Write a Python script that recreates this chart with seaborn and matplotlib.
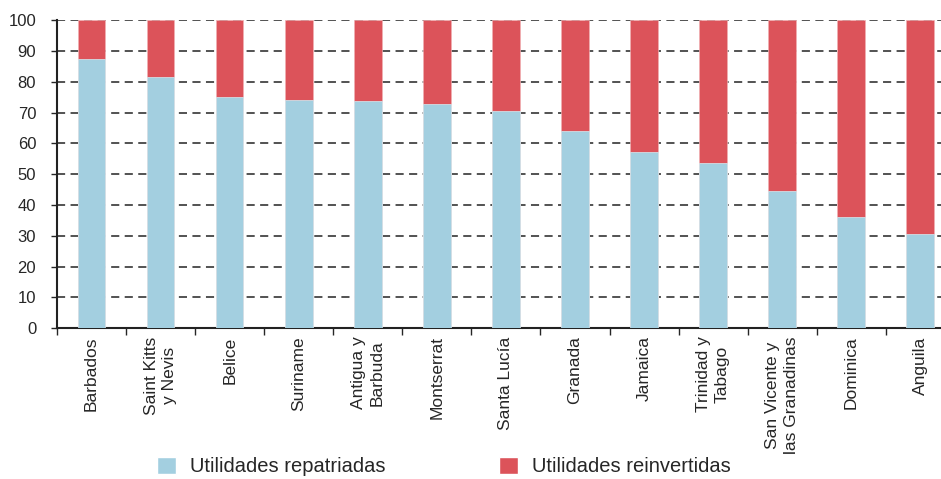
import matplotlib
matplotlib.use('Agg')
import matplotlib.pyplot as plt
import numpy as np
import pandas as pd
import seaborn as sns
from matplotlib.patches import Patch

# Data (percent of total earnings)
countries = [
    'Barbados', 'Saint Kitts\ny Nevis', 'Belice', 'Suriname', 'Antigua y\nBarbuda',
    'Montserrat', 'Santa Lucía', 'Granada', 'Jamaica', 'Trinidad y\nTabago',
    'San Vicente y\nlas Granadinas', 'Dominica', 'Anguila',
]
repatriadas = [87.4, 81.4, 75.0, 74.1, 73.8, 72.8, 70.6, 63.9, 57.1, 53.6, 44.6, 36.0, 30.6]
reinvertidas = [100 - v for v in repatriadas]

blue = '#a3cfe0'
red = '#dc535a'

sns.set_style('white')
plt.rcParams['font.family'] = ['Liberation Sans', 'DejaVu Sans']

df = pd.DataFrame({
    'pais': countries,
    'repatriadas': repatriadas,
    'total': np.array(repatriadas) + np.array(reinvertidas),
})

fig = plt.figure(figsize=(9.41, 4.79), dpi=100)
ax = fig.add_axes([0.0606, 0.315, 0.9394, 0.643])

for y in np.arange(10, 101, 10):
    ax.axhline(y, color='#444444', lw=1.3, ls=(0, (4.5, 3)), zorder=0)

sns.barplot(data=df, x='pais', y='total', color=red, width=0.4,
            saturation=1, edgecolor='#f0b0b3', linewidth=0.5, ax=ax, zorder=2)
sns.barplot(data=df, x='pais', y='repatriadas', color=blue, width=0.4,
            saturation=1, edgecolor='#d8ecf3', linewidth=0.5, ax=ax, zorder=3)

ax.set_ylim(0, 100)
ax.set_xlim(-0.5, 12.3)
ax.set_yticks(np.arange(0, 101, 10))
ax.tick_params(axis='y', labelsize=12, length=4, width=1, direction='out', left=True, pad=11)
ax.tick_params(axis='x', which='major', length=0, labelsize=12.5, pad=6)
ax.set_xticks(np.arange(-0.5, 12.5, 1), minor=True)
ax.tick_params(axis='x', which='minor', length=5, width=1, direction='out', bottom=True)
ax.set_xticklabels(countries, rotation=90, ha='center', va='top', linespacing=1.3)
ax.set_xlabel('')
ax.set_ylabel('')

for side in ['top', 'right']:
    ax.spines[side].set_visible(False)
for side in ['left', 'bottom']:
    ax.spines[side].set_color('#222222')
    ax.spines[side].set_linewidth(1.5)

handles = [Patch(facecolor=blue, label='Utilidades repatriadas'),
           Patch(facecolor=red, label='Utilidades reinvertidas')]
fig.legend(handles=handles, loc='lower left', ncol=2, frameon=False,
           bbox_to_anchor=(0.167, 0.006), borderpad=0, borderaxespad=0,
           handlelength=0.95, handleheight=0.9, columnspacing=5.6, handletextpad=0.7,
           prop={'family': ['Liberation Sans', 'DejaVu Sans'], 'size': 14.5})

fig.savefig('out.png', dpi=100)
